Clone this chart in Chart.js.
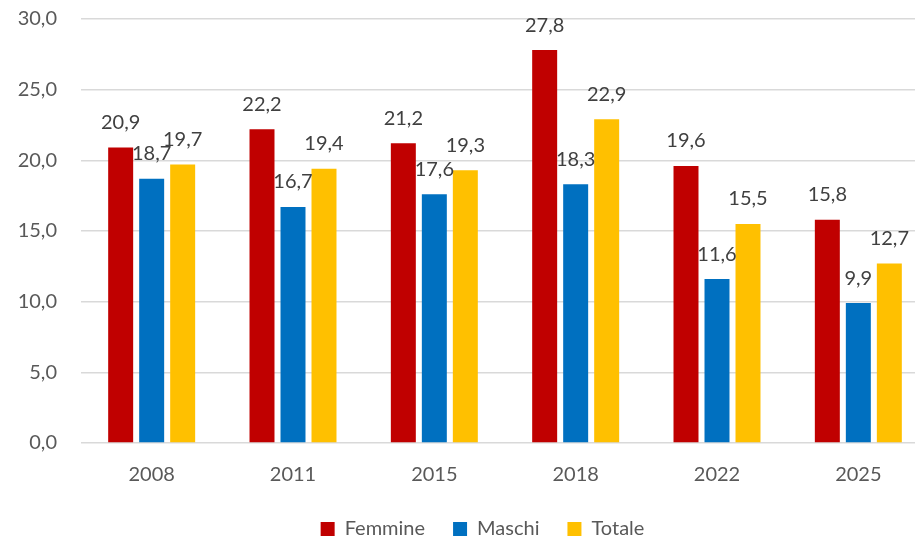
<!DOCTYPE html>
<html>
<head>
<meta charset="utf-8">
<script src="https://cdn.jsdelivr.net/npm/chart.js"></script>
<style>
  html, body { margin: 0; padding: 0; background: #fff; overflow: hidden; }
  #wrap { width: 929px; height: 539px; }
</style>
</head>
<body>
<div id="wrap"><canvas id="chart"></canvas></div>
<script>
// years on the x axis
const anni = ['2008', '2011', '2015', '2018', '2022', '2025'];
// values per series
const femmine = [20.9, 22.2, 21.2, 27.8, 19.6, 15.8];
const maschi = [18.7, 16.7, 17.6, 18.3, 11.6, 9.9];
const totale = [19.7, 19.4, 19.3, 22.9, 15.5, 12.7];

const FONT = 'Lato, "Noto Sans", sans-serif';
const fmt = v => v.toFixed(1).replace('.', ',');

// draws the value labels above every bar
const valueLabels = {
    id: 'valueLabels',
    afterDatasetsDraw(chart) {
        const ctx = chart.ctx;
        ctx.save();
        ctx.font = '20px ' + FONT;
        ctx.fillStyle = '#404040';
        ctx.textAlign = 'center';
        ctx.textBaseline = 'middle';
        chart.data.datasets.forEach((ds, i) => {
            chart.getDatasetMeta(i).data.forEach((bar, j) => {
                ctx.fillText(fmt(ds.data[j]), bar.x, bar.y - 25);
            });
        });
        ctx.restore();
    }
};

// move the legend a bit to the right, like the original
const legendShift = {
    id: 'legendShift',
    afterLayout(chart) {
        chart.legend.left += 18;
        chart.legend.right += 18;
    }
};

new Chart(document.getElementById('chart'), {
    type: 'bar',
    data: {
        labels: anni,
        datasets: [
            { label: 'Femmine', data: femmine, backgroundColor: '#C00000' },
            { label: 'Maschi', data: maschi, backgroundColor: '#0070C0' },
            { label: 'Totale', data: totale, backgroundColor: '#FFC000' }
        ]
    },
    options: {
        responsive: true,
        maintainAspectRatio: false,
        animation: false,
        categoryPercentage: 0.658,
        barPercentage: 0.806,
        layout: { padding: { top: 19, left: 0, right: 0, bottom: 0 } },
        scales: {
            x: {
                grid: { display: false, drawTicks: false },
                border: { display: false },
                ticks: { color: '#595959', font: { family: FONT, size: 20 }, padding: 20 },
                afterFit(scale) { scale.height = 48; }
            },
            y: {
                min: 0,
                max: 30,
                ticks: {
                    stepSize: 5,
                    color: '#595959',
                    font: { family: FONT, size: 20 },
                    padding: 24,
                    callback: v => fmt(v)
                },
                grid: { color: '#D9D9D9', lineWidth: 1.5, drawTicks: false },
                border: { display: false },
                afterFit(scale) {
                    scale.width = 81;
                    scale.paddingTop = 0;
                    scale.paddingBottom = 0;
                }
            }
        },
        plugins: {
            legend: {
                position: 'bottom',
                maxHeight: 48,
                labels: {
                    boxWidth: 14,
                    boxHeight: 14,
                    padding: 28,
                    color: '#595959',
                    font: { family: FONT, size: 20 }
                }
            },
            tooltip: { enabled: false }
        }
    },
    plugins: [valueLabels, legendShift]
});
</script>
</body>
</html>
